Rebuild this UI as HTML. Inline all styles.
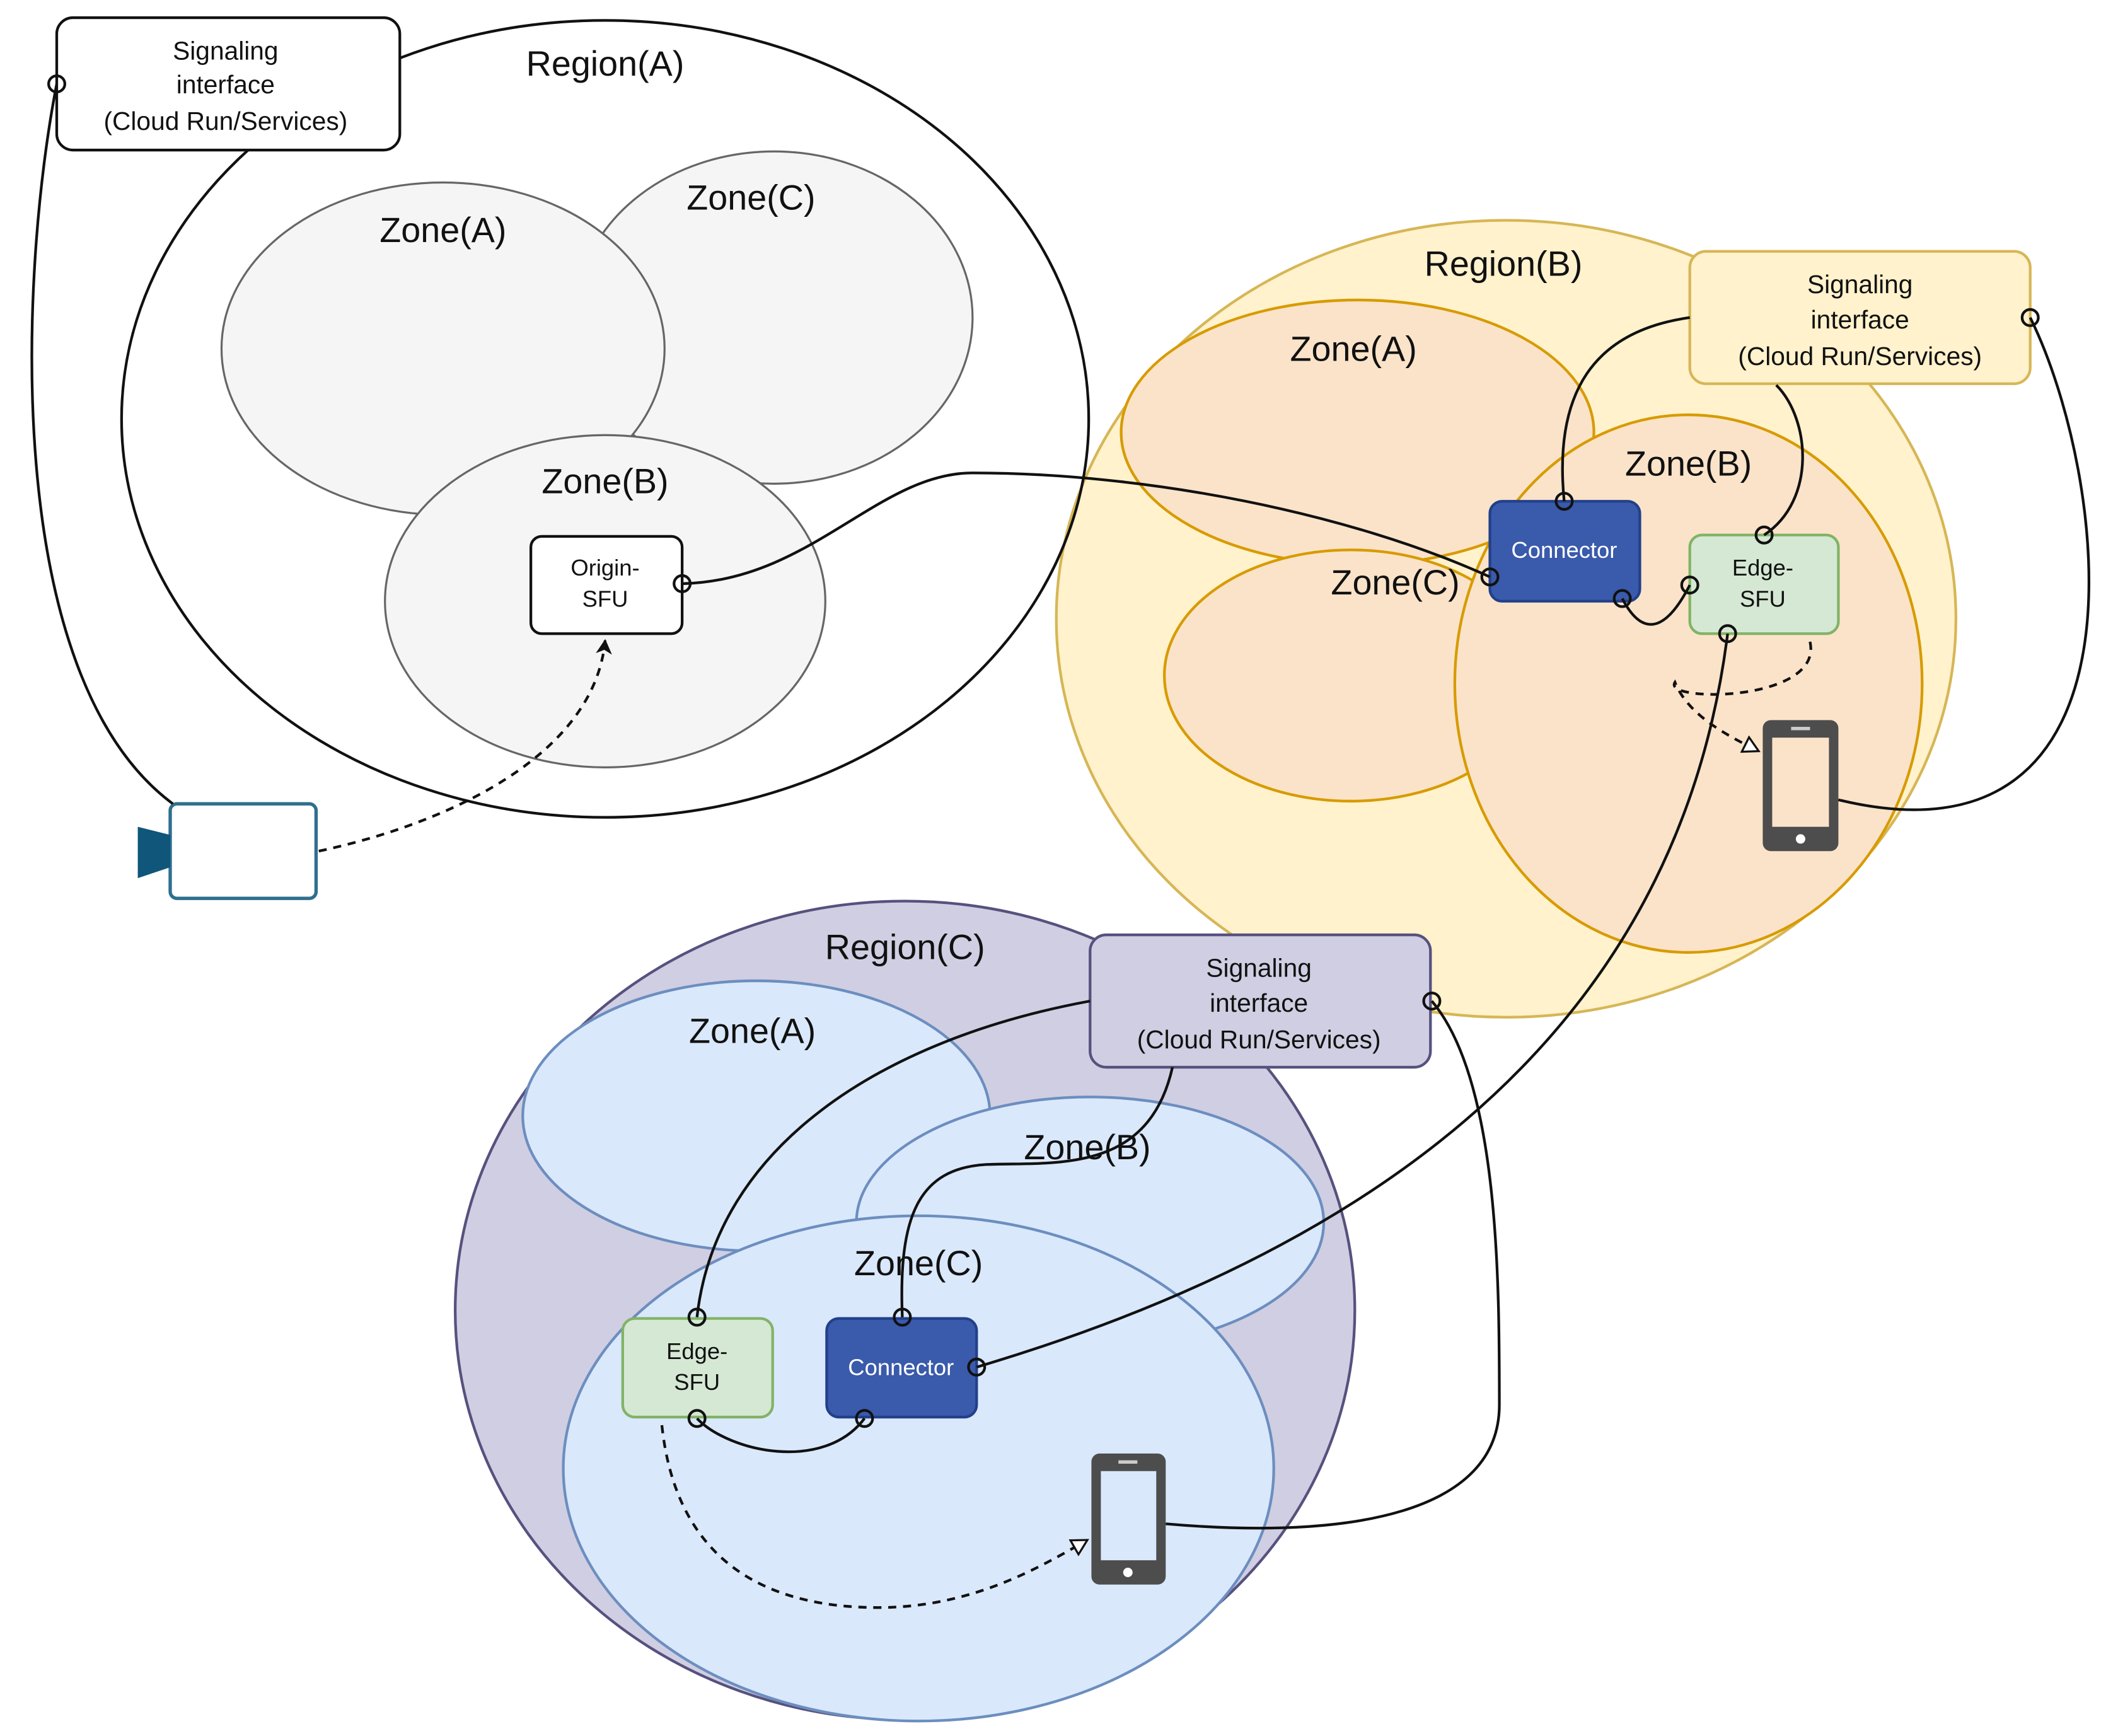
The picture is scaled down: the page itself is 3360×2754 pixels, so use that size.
<!DOCTYPE html>
<html><head><meta charset="utf-8"><style>
html,body{margin:0;padding:0;background:#fff;}
svg{display:block;}
text{font-family:"Liberation Sans",sans-serif;fill:#111;text-anchor:middle;}
</style></head><body>
<svg width="3360" height="2754" viewBox="0 0 1568 1285" xmlns="http://www.w3.org/2000/svg">
<defs>
<marker id="af" markerWidth="12" markerHeight="12" refX="10" refY="6" orient="auto" markerUnits="userSpaceOnUse"><path d="M0,0 L11,6 L0,12 L3,6 Z" fill="#111"/></marker>
<marker id="ao" markerWidth="14" markerHeight="14" refX="12" refY="7" orient="auto" markerUnits="userSpaceOnUse"><path d="M1,1 L12,7 L1,13 Z" fill="#fff" stroke="#111" stroke-width="1.5"/></marker>
</defs>
<rect width="1568" height="1285" fill="#fff"/>

<!-- Region B -->
<ellipse cx="1115" cy="458" rx="333" ry="295" fill="#fff2cc" stroke="#d6b656" stroke-width="2"/>
<ellipse cx="1005" cy="320" rx="175" ry="98" fill="#fbe3c9" stroke="#d79b00" stroke-width="2"/>
<ellipse cx="1000" cy="500" rx="138" ry="93" fill="#fbe3c9" stroke="#d79b00" stroke-width="2"/>
<ellipse cx="1250" cy="506" rx="173" ry="199" fill="#fbe3c9" stroke="#d79b00" stroke-width="2"/>
<text x="1113" y="204" font-size="26">Region(B)</text>
<text x="1002" y="267" font-size="26">Zone(A)</text>
<text x="1033" y="440" font-size="26">Zone(C)</text>
<text x="1250" y="352" font-size="26">Zone(B)</text>

<!-- Region A -->
<ellipse cx="448" cy="310" rx="358" ry="295" fill="none" stroke="#111" stroke-width="2"/>
<ellipse cx="573" cy="235" rx="147" ry="123" fill="#f5f5f5" stroke="#666" stroke-width="1.5"/>
<ellipse cx="328" cy="258" rx="164" ry="123" fill="#f5f5f5" stroke="#666" stroke-width="1.5"/>
<ellipse cx="448" cy="445" rx="163" ry="123" fill="#f5f5f5" stroke="#666" stroke-width="1.5"/>
<text x="448" y="56" font-size="26">Region(A)</text>
<text x="556" y="155" font-size="26">Zone(C)</text>
<text x="328" y="179" font-size="26">Zone(A)</text>
<text x="448" y="365" font-size="26">Zone(B)</text>

<rect x="42" y="13" width="254" height="98" rx="12" fill="#fff" stroke="#111" stroke-width="2"/>
<text x="167" y="44" font-size="19">Signaling</text>
<text x="167" y="69" font-size="19">interface</text>
<text x="167" y="96" font-size="19">(Cloud Run/Services)</text>

<rect x="393" y="397" width="112" height="72" rx="8" fill="#fff" stroke="#111" stroke-width="2"/>
<text x="448" y="426" font-size="17">Origin-</text>
<text x="448" y="449" font-size="17">SFU</text>

<!-- camera -->
<rect x="126" y="595" width="108" height="70" rx="5" fill="#fff" stroke="#2f6f8f" stroke-width="2.5"/>
<path d="M102,612 L126,618 L126,642 L102,650 Z" fill="#10557a"/>

<!-- Region C -->
<ellipse cx="670" cy="970" rx="333" ry="303" fill="#d0cee2" stroke="#56517e" stroke-width="2"/>
<ellipse cx="560" cy="826" rx="173" ry="100" fill="#dae8fc" stroke="#6c8ebf" stroke-width="2"/>
<ellipse cx="807" cy="905" rx="173" ry="93" fill="#dae8fc" stroke="#6c8ebf" stroke-width="2"/>
<ellipse cx="680" cy="1087" rx="263" ry="187" fill="#dae8fc" stroke="#6c8ebf" stroke-width="2"/>
<text x="670" y="710" font-size="26">Region(C)</text>
<text x="557" y="772" font-size="26">Zone(A)</text>
<text x="805" y="858" font-size="26">Zone(B)</text>
<text x="680" y="944" font-size="26">Zone(C)</text>

<!-- boxes B -->
<rect x="1251" y="186" width="252" height="98" rx="12" fill="#fff2cc" stroke="#d6b656" stroke-width="2"/>
<text x="1377" y="217" font-size="19">Signaling</text>
<text x="1377" y="243" font-size="19">interface</text>
<text x="1377" y="270" font-size="19">(Cloud Run/Services)</text>
<rect x="1103" y="371" width="111" height="74" rx="9" fill="#3a5aab" stroke="#22408a" stroke-width="2"/>
<text x="1158" y="413" font-size="17" style="fill:#fff">Connector</text>
<rect x="1251" y="396" width="110" height="73" rx="9" fill="#d5e8d4" stroke="#82b366" stroke-width="2"/>
<text x="1305" y="426" font-size="17">Edge-</text>
<text x="1305" y="449" font-size="17">SFU</text>
<rect x="1305" y="533" width="56" height="97" rx="6" fill="#4d4d4d"/>
<rect x="1312" y="546" width="42" height="66" fill="#fbe3c9"/>
<rect x="1326" y="538" width="14" height="2.5" fill="#ccc"/>
<circle cx="1333" cy="621" r="3.5" fill="#fff"/>

<!-- boxes C -->
<rect x="807" y="692" width="252" height="98" rx="12" fill="#d0cee2" stroke="#56517e" stroke-width="2"/>
<text x="932" y="723" font-size="19">Signaling</text>
<text x="932" y="749" font-size="19">interface</text>
<text x="932" y="776" font-size="19">(Cloud Run/Services)</text>
<rect x="461" y="976" width="111" height="73" rx="9" fill="#d5e8d4" stroke="#82b366" stroke-width="2"/>
<text x="516" y="1006" font-size="17">Edge-</text>
<text x="516" y="1029" font-size="17">SFU</text>
<rect x="612" y="976" width="111" height="73" rx="9" fill="#3a5aab" stroke="#22408a" stroke-width="2"/>
<text x="667" y="1018" font-size="17" style="fill:#fff">Connector</text>
<rect x="808" y="1076" width="55" height="97" rx="6" fill="#4d4d4d"/>
<rect x="815" y="1089" width="41" height="66" fill="#dae8fc"/>
<rect x="828" y="1081" width="14" height="2.5" fill="#ccc"/>
<circle cx="835" cy="1164" r="3.5" fill="#fff"/>

<!-- connectors -->
<g fill="none" stroke="#111" stroke-width="2">
<path d="M42,62 C15,200 0,500 128,595"/>
<path d="M505,432 C600,430 650,350 720,350 C850,350 1000,380 1103,427"/>
<path d="M1251,235 C1180,245 1150,290 1158,371"/>
<path d="M1315,285 C1340,310 1345,370 1306,396"/>
<path d="M1201,443 C1215,470 1232,470 1251,433"/>
<path d="M1503,235 C1560,350 1600,650 1361,592"/>
<path d="M1279,469 C1250,700 1100,900 723,1012"/>
<path d="M807,741 C650,770 530,850 516,975"/>
<path d="M868,790 C850,870 780,860 730,862 C680,865 665,900 668,975"/>
<path d="M1060,741 C1110,800 1110,950 1110,1040 C1110,1120 1000,1140 863,1128"/>
<path d="M516,1050 C540,1075 610,1090 640,1050"/>
</g>
<g fill="none" stroke="#111" stroke-width="2" stroke-dasharray="6,5">
<path d="M236,630 C330,610 440,560 448,474" marker-end="url(#af)"/>
<path d="M1340,475 C1350,520 1230,520 1240,505 C1250,530 1280,545 1302,556" marker-end="url(#ao)"/>
<path d="M490,1055 C500,1150 560,1190 650,1190 C720,1190 770,1160 805,1140" marker-end="url(#ao)"/>
</g>

<!-- ports -->
<g fill="#fff" fill-opacity="0" stroke="#111" stroke-width="2">
<circle cx="42" cy="62" r="6"/><circle cx="505" cy="432" r="6"/>
<circle cx="1158" cy="371" r="6"/><circle cx="1103" cy="427" r="6"/>
<circle cx="1201" cy="443" r="6"/><circle cx="1251" cy="433" r="6"/>
<circle cx="1306" cy="396" r="6"/><circle cx="1279" cy="469" r="6"/>
<circle cx="1503" cy="235" r="6"/><circle cx="1060" cy="741" r="6"/>
<circle cx="516" cy="975" r="6"/><circle cx="668" cy="975" r="6"/>
<circle cx="723" cy="1012" r="6"/><circle cx="516" cy="1050" r="6"/>
<circle cx="640" cy="1050" r="6"/>
</g>
</svg>
</body></html>
